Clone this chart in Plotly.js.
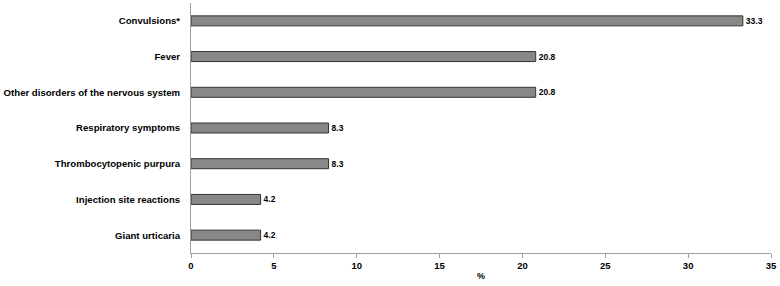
<!DOCTYPE html>
<html><head><meta charset="utf-8">
<script src="https://cdn.plot.ly/plotly-3.0.1.min.js"></script>
<style>body{margin:0;padding:0;background:#fff}#chart{width:780px;height:286px}</style>
</head><body><div id="chart"></div>
<script>
const categories = ["Convulsions*","Fever","Other disorders of the nervous system","Respiratory symptoms","Thrombocytopenic purpura","Injection site reactions","Giant urticaria"];
const values = [33.3,20.8,20.8,8.3,8.3,4.2,4.2];
const valueLabels = ["33.3","20.8","20.8","8.3","8.3","4.2","4.2"];
const xTicks = [0,5,10,15,20,25,30,35];

const trace = {
  type:'bar', orientation:'h',
  y: categories, x: values,
  text: valueLabels, textposition:'outside', cliponaxis:false,
  textfont:{family:'Liberation Sans, Arial, sans-serif', size:8.5, color:'#000', weight:'bold'},
  marker:{color:'#888888', line:{color:'#333333', width:1}},
  width:0.28, hoverinfo:'none'
};
const layout = {
  width:780, height:286,
  margin:{l:191, r:9, t:3, b:33},
  paper_bgcolor:'#fff', plot_bgcolor:'#fff',
  showlegend:false,
  font:{family:'Liberation Sans, Arial, sans-serif', color:'#000'},
  xaxis:{range:[0,35], tickvals:xTicks, ticktext:xTicks.map(String),
    showgrid:false, zeroline:false, showline:true, linecolor:'#a0a0a0', linewidth:1,
    ticks:'outside', ticklen:4, tickcolor:'#a0a0a0',
    tickfont:{size:9.5, family:'Liberation Sans, Arial, sans-serif', weight:'bold'},
    title:{text:'<b>%</b>', font:{size:9}, standoff:2}},
  yaxis:{autorange:'reversed', categoryorder:'array', categoryarray:categories,
    showgrid:false, zeroline:false, showline:true, linecolor:'#a0a0a0', linewidth:1,
    ticks:'', ticklabelstandoff:8,
    tickfont:{size:9.6, family:'Liberation Sans, Arial, sans-serif', weight:'bold'}}
};
Plotly.newPlot('chart',[trace],layout,{staticPlot:true});
</script></body></html>
